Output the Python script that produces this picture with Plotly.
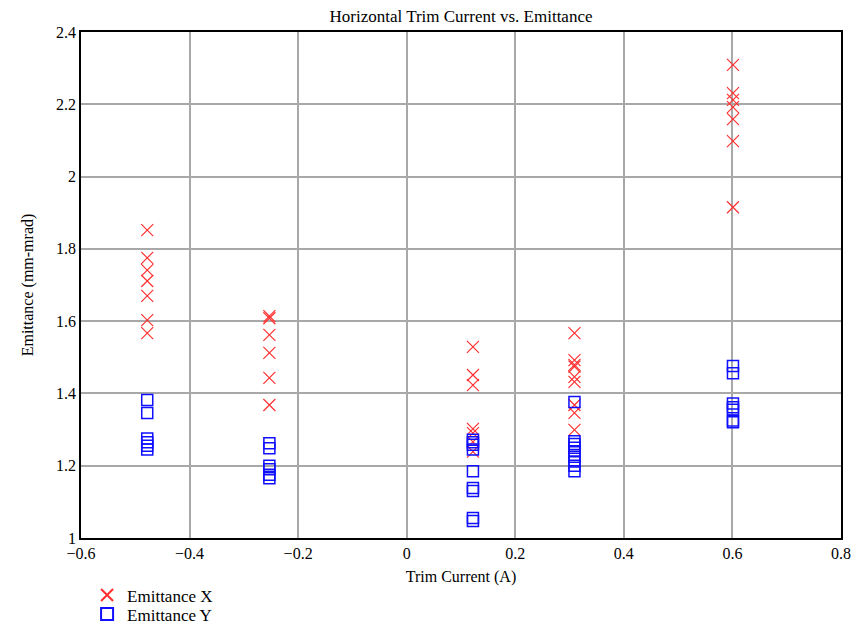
import plotly.graph_objects as go

# Trim current settings (A)
currents = [-0.478, -0.253, 0.122, 0.309, 0.601]

# Emittance X (mm-mrad) per current setting
emit_x = [
    [1.852, 1.775, 1.741, 1.711, 1.670, 1.603, 1.567],
    [1.614, 1.608, 1.562, 1.512, 1.443, 1.368],
    [1.529, 1.451, 1.423, 1.302, 1.290, 1.266, 1.239],
    [1.567, 1.492, 1.479, 1.474, 1.446, 1.432, 1.368, 1.346, 1.299],
    [2.309, 2.231, 2.212, 2.192, 2.159, 2.098, 1.915],
]

# Emittance Y (mm-mrad) per current setting
emit_y = [
    [1.382, 1.346, 1.275, 1.265, 1.255, 1.245],
    [1.262, 1.248, 1.200, 1.190, 1.175, 1.165],
    [1.272, 1.265, 1.258, 1.245, 1.185, 1.138, 1.130, 1.055, 1.047],
    [1.376, 1.268, 1.260, 1.250, 1.240, 1.225, 1.212, 1.200, 1.185],
    [1.476, 1.456, 1.372, 1.362, 1.355, 1.325, 1.320],
]

x_tick_vals = [-0.6, -0.4, -0.2, 0, 0.2, 0.4, 0.6, 0.8]
x_tick_text = ["\u22120.6", "\u22120.4", "\u22120.2", "0", "0.2", "0.4", "0.6", "0.8"]
y_tick_vals = [1, 1.2, 1.4, 1.6, 1.8, 2, 2.2, 2.4]
y_tick_text = ["1", "1.2", "1.4", "1.6", "1.8", "2", "2.2", "2.4"]

xx, xy = [], []
for c, vals in zip(currents, emit_x):
    xx += [c] * len(vals)
    xy += vals
yx, yy = [], []
for c, vals in zip(currents, emit_y):
    yx += [c] * len(vals)
    yy += vals

FONT = "Liberation Serif"

fig = go.Figure()
fig.add_trace(go.Scatter(
    x=xx, y=xy, mode="markers", name="Emittance X", legend="legend",
    marker=dict(symbol="x-thin-open", size=12, color="#ff3030",
                line=dict(width=1.2, color="#ff3030")),
))
fig.add_trace(go.Scatter(
    x=yx, y=yy, mode="markers", name="Emittance Y", legend="legend2",
    marker=dict(symbol="square-open", size=11, color="#1010ff",
                line=dict(width=1.5, color="#1010ff")),
))

axis_common = dict(
    showline=True, linecolor="black", linewidth=1.5, mirror=True,
    showgrid=True, gridcolor="#a8a8a8", gridwidth=1.5,
    zeroline=False, ticks="",
    tickfont=dict(family=FONT, size=16, color="black"),
)

legend_common = dict(xanchor="left", yanchor="top", bgcolor="rgba(0,0,0,0)",
                     font=dict(family=FONT, size=17), itemsizing="constant")

# page body has an 8px margin, so the figure is sized/offset to compensate
fig.update_layout(
    width=855, height=618,
    margin=dict(l=73, r=22, t=24, b=88, autoexpand=False),
    paper_bgcolor="white", plot_bgcolor="white",
    font=dict(family=FONT, size=16, color="black"),
    title=dict(text="Horizontal Trim Current vs. Emittance", x=0.5, xanchor="center",
               xref="paper", y=1 - 8 / 618, yanchor="middle",
               font=dict(family=FONT, size=17, color="black")),
    xaxis=dict(range=[-0.6, 0.8], tickvals=x_tick_vals, ticktext=x_tick_text,
               title=dict(text="Trim Current (A)", standoff=10,
                          font=dict(family=FONT, size=16)),
               **axis_common),
    yaxis=dict(range=[1, 2.4], tickvals=y_tick_vals, ticktext=y_tick_text,
               title=dict(text="Emittance (mm-mrad)", standoff=18,
                          font=dict(family=FONT, size=16)),
               **axis_common),
    showlegend=True,
    legend=dict(x=0.008, y=-0.078, **legend_common),
    legend2=dict(x=0.008, y=-0.1156, **legend_common),
)

fig.write_html("out.html")
